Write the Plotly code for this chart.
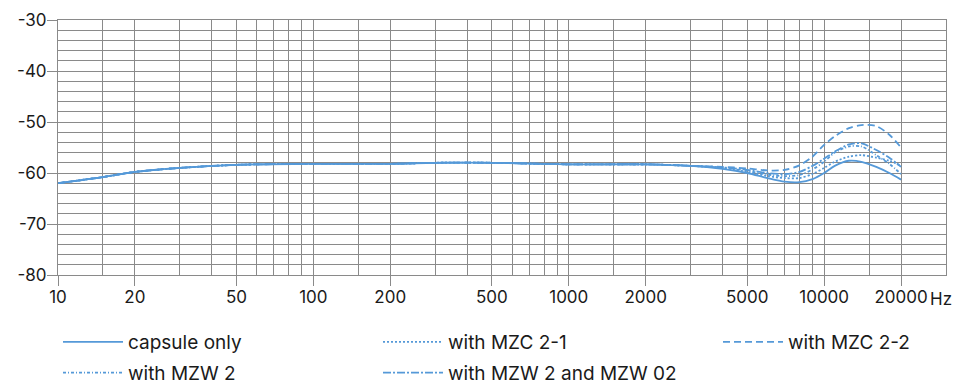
import plotly.graph_objects as go
import numpy as np

freq = [10, 15, 20, 30, 50, 100, 200, 300, 500, 1000, 2000, 3000, 4000, 5000,
        6000, 7000, 8000, 9000, 10000, 11000, 12500, 14000, 16000, 18000, 20000]

base = [-62.0, -60.8, -59.8, -59.0, -58.4, -58.2, -58.2, -58.0, -58.0, -58.3, -58.3, -58.6]

capsule_only = base + [-59.2, -60.0, -61.0, -61.7, -61.8, -61.2, -60.0, -58.6, -57.6, -57.8, -58.8, -60.0, -61.3]
mzc_2_1 = base + [-59.0, -59.8, -60.6, -61.0, -61.0, -60.2, -59.0, -57.8, -56.8, -56.5, -57.0, -57.6, -58.6]
mzc_2_2 = base + [-58.8, -59.1, -59.5, -59.4, -58.5, -56.8, -54.5, -52.8, -51.2, -50.6, -50.8, -52.5, -55.0]
mzw_2 = base + [-59.0, -59.6, -60.3, -60.6, -60.4, -59.3, -57.8, -56.0, -54.8, -54.8, -56.5, -58.2, -60.2]
mzw_2_02 = base + [-58.9, -59.4, -60.0, -60.2, -59.8, -58.6, -57.2, -55.8, -54.4, -54.2, -55.5, -57.0, -58.8]

names = ["capsule only", "with MZC 2-1", "with MZC 2-2", "with MZW 2", "with MZW 2 and MZW 02"]

x_major = [10, 20, 50, 100, 200, 500, 1000, 2000, 5000, 10000, 20000]
x_major_text = ["10", "20", "50", "100", "200", "500", "1000", "2000", "5000", "10000", "20000"]
x_minor = [15, 30, 40, 60, 70, 80, 90, 150, 300, 400, 600, 700, 800, 900,
           1500, 3000, 4000, 6000, 7000, 8000, 9000, 15000]
y_major = [-80, -70, -60, -50, -40, -30]
y_major_text = ["-80", "-70", "-60", "-50", "-40", "-30"]

color = "#5599d8"
grid = "#8a8a8a"
font = "Inter, Roboto, Arial, sans-serif"

series = [
    (names[0], capsule_only, "solid", "legend"),
    (names[3], mzw_2, "3px,2px,1px,2px", "legend"),
    (names[1], mzc_2_1, "2px,2px", "legend2"),
    (names[4], mzw_2_02, "8px,2px,2px,2px", "legend2"),
    (names[2], mzc_2_2, "7px,4px", "legend3"),
]

fig = go.Figure()
for i, (nm, ys, dash, lg) in enumerate(series):
    fig.add_trace(go.Scatter(
        x=freq, y=ys, name=nm, mode="lines", legend=lg, legendgroup=nm,
        line=dict(color=color, width=1.8, dash=dash, shape="spline", smoothing=0.8),
    ))

legend_common = dict(orientation="v", yanchor="top", xanchor="left",
                     xref="container", yref="container",
                     font=dict(family=font, size=19, color="#1a1a1a"),
                     bgcolor="rgba(0,0,0,0)", tracegroupgap=3, traceorder="grouped",
                     itemwidth=60)

ly = 1 - 323 / 385
fig.update_layout(
    width=966, height=385,
    margin=dict(l=58, r=20, t=20, b=110, autoexpand=False),
    plot_bgcolor="white", paper_bgcolor="white",
    font=dict(family=font, size=16, color="#1a1a1a"),
    showlegend=True,
    legend=dict(x=58 / 966, y=ly, **legend_common),
    legend2=dict(x=378 / 966, y=ly, **legend_common),
    legend3=dict(x=718 / 966, y=ly, **legend_common),
    xaxis=dict(
        type="log", range=[1, np.log10(30000)], automargin=False,
        tickmode="array", tickvals=x_major, ticktext=x_major_text,
        ticks="outside", ticklen=10, tickcolor=grid, tickwidth=1,
        ticklabelstandoff=-3,
        showgrid=True, gridcolor=grid, gridwidth=1,
        showline=True, linecolor=grid, linewidth=1, mirror=True,
        zeroline=False,
        tickfont=dict(family=font, size=17, color="#1a1a1a"),
        minor=dict(tickmode="array", tickvals=x_minor, showgrid=True,
                   gridcolor=grid, gridwidth=1, ticks=""),
    ),
    yaxis=dict(
        range=[-80, -30], tickmode="array", tickvals=y_major, ticktext=y_major_text,
        automargin=False,
        ticks="outside", ticklen=10, tickcolor=grid, tickwidth=1,
        ticklabelstandoff=-3,
        showgrid=True, gridcolor=grid, gridwidth=1,
        showline=True, linecolor=grid, linewidth=1, mirror=True,
        zeroline=False,
        tickfont=dict(family=font, size=17, color="#1a1a1a"),
        minor=dict(dtick=2, showgrid=True, gridcolor=grid, gridwidth=1, ticks=""),
    ),
    annotations=[dict(text="Hz", xref="paper", yref="paper", x=1, y=0,
                      xanchor="left", yanchor="top", xshift=-18, yshift=-12,
                      showarrow=False, font=dict(family=font, size=17, color="#1a1a1a"))],
)

fig.write_html("out.html", config={"displayModeBar": False},
               post_script="document.body.style.margin='0';")
